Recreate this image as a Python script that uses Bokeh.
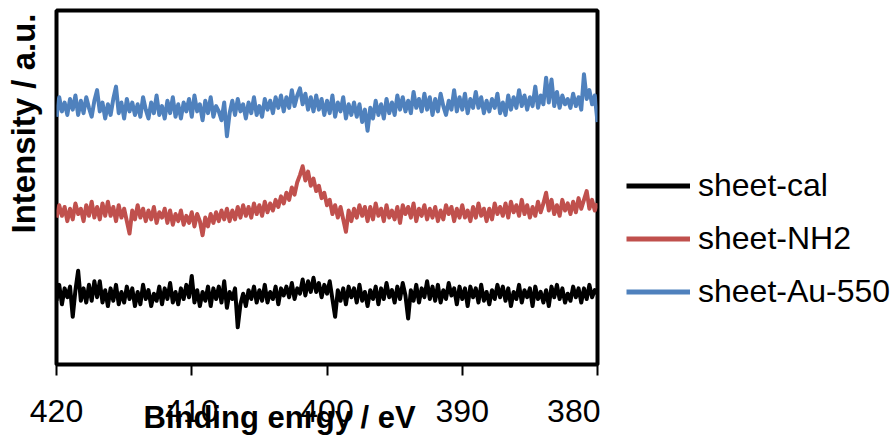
import numpy as np
from bokeh.plotting import figure
from bokeh.layouts import row
from bokeh.models import Range1d, FixedTicker, Legend, LegendItem, Title
from bokeh.embed import file_html
from bokeh.resources import INLINE

# Spectra sampled every 0.2 eV from 420 eV down to 380 eV (one row = 1 eV)
sheet_au_550 = [
    70.0, 75.5, 71.5, 74.0, 70.5,
    75.0, 72.0, 76.0, 70.5, 74.5,
    71.0, 75.5, 72.5, 70.0, 74.5,
    77.5, 71.5, 74.0, 69.5, 73.5,
    70.5, 75.0, 78.5, 71.0, 74.0,
    69.5, 75.0, 71.5, 74.0, 70.5,
    73.5, 70.0, 75.5, 72.0, 69.5,
    74.0, 71.0, 76.0, 70.5, 73.0,
    69.5, 74.5, 71.0, 75.5, 70.0,
    73.5, 69.5, 74.0, 71.5, 75.0,
    70.0, 76.0, 71.5, 73.5, 69.0,
    74.5, 71.0, 75.5, 70.0, 73.0,
    71.5, 69.0, 74.0, 64.5, 71.0,
    74.5, 70.5, 75.0, 71.5, 73.5,
    69.5, 74.0, 71.0, 75.5, 70.5,
    73.0, 70.0, 75.0, 72.0, 74.5,
    71.0, 75.5, 72.5, 76.0, 71.5,
    75.5, 72.5, 77.5, 73.0, 76.0,
    78.0, 73.5, 76.5, 72.0, 75.5,
    71.5, 76.0, 72.0, 75.0, 70.5,
    74.5, 71.0, 76.0, 70.0, 74.0,
    71.5, 75.5, 69.5, 73.5, 70.5,
    74.0, 70.0, 73.5, 68.5, 72.0,
    66.0, 72.5, 69.5, 74.5, 70.5,
    73.5, 69.5, 75.0, 71.0, 74.0,
    70.5, 76.0, 72.0, 75.5, 71.5,
    74.5, 71.0, 77.0, 72.5, 75.0,
    71.5, 76.5, 72.0, 75.5, 70.5,
    75.0, 71.5, 76.5, 73.0, 70.5,
    74.5, 72.0, 77.5, 71.5, 75.5,
    72.0, 76.5, 71.0, 75.0, 72.5,
    77.0, 72.5, 75.5, 71.0, 74.5,
    71.5, 75.0, 72.5, 76.5, 71.0,
    74.0, 70.5, 76.0, 72.0, 75.5,
    72.5, 77.5, 73.0, 76.0, 72.0,
    75.5, 73.0, 78.5, 72.5, 76.0,
    73.5, 81.0, 74.0, 80.5, 73.0,
    77.0, 72.5, 76.0, 73.5, 75.0,
    72.5, 76.5, 73.0, 75.5, 72.0,
    82.0, 75.0, 77.5, 73.5, 76.0,
    68.5,
]

sheet_nh2 = [
    41.5, 45.0, 42.0, 44.5, 40.5,
    44.0, 41.0, 45.5, 42.5, 44.0,
    40.5, 45.0, 42.0, 46.0, 41.5,
    44.5, 41.0, 45.5, 42.0, 46.0,
    42.0, 44.5, 40.5, 45.0, 41.5,
    44.0, 40.5, 37.0, 43.5, 41.0,
    45.0, 41.5, 44.0, 40.5, 43.5,
    41.0, 44.5, 40.0, 43.0, 41.5,
    44.0, 40.0, 43.5, 39.5, 42.5,
    40.5, 43.5, 39.5, 42.0, 40.0,
    43.0, 39.0, 42.5, 40.5, 36.5,
    41.5, 39.0, 42.5, 40.0, 43.0,
    40.5, 43.5, 41.0, 44.0, 40.5,
    43.5, 41.0, 44.5, 41.5, 45.0,
    42.0, 44.5, 41.5, 45.5, 42.5,
    45.0, 42.0, 46.0, 43.0, 45.5,
    43.5, 46.5, 44.5, 47.5, 45.5,
    48.5, 46.5, 50.0, 48.0, 51.5,
    53.5, 56.0, 52.0, 54.5, 50.5,
    52.5, 49.0, 50.5, 47.0, 48.5,
    45.0, 46.5, 42.5, 45.0, 41.5,
    44.5, 41.0, 37.5, 43.5, 40.5,
    44.0, 41.5, 45.0, 42.0, 44.5,
    40.5, 44.5, 41.0, 45.5, 42.0,
    44.0, 40.5, 45.0, 41.5, 43.5,
    41.0, 44.5, 40.0, 45.0, 42.5,
    44.5, 41.5, 45.5, 40.5, 44.0,
    42.0, 45.0, 41.0, 44.0, 41.5,
    44.5, 40.5, 43.5, 41.0, 45.0,
    42.5, 44.5, 40.5, 44.0, 41.5,
    45.0, 41.5, 43.5, 40.5, 44.5,
    41.5, 45.5, 42.0, 44.0, 40.5,
    44.0, 41.0, 45.5, 42.5, 44.5,
    42.0, 45.5, 41.5, 46.0, 43.0,
    45.0, 42.0, 46.5, 42.5, 45.0,
    41.5, 44.5, 42.0, 46.0, 43.0,
    45.5, 48.5, 43.5, 46.5, 42.5,
    45.0, 42.0, 46.5, 43.5, 45.5,
    42.5, 46.0, 43.0, 47.0, 44.0,
    46.5, 49.0, 44.0, 46.5, 43.5,
    45.5,
]

sheet_cal = [
    18.0, 22.5, 17.0, 21.5, 19.0,
    22.0, 13.5, 21.0, 26.5, 18.0,
    21.5, 17.5, 22.5, 18.0, 23.5,
    19.0, 23.5, 17.5, 21.0, 16.5,
    21.5, 18.0, 22.5, 17.0, 20.5,
    17.5, 22.0, 18.5, 21.5, 16.5,
    20.5, 17.0, 22.5, 18.5, 21.0,
    16.5, 20.0, 18.0, 22.0, 17.0,
    21.5, 18.5, 23.0, 17.5, 20.5,
    17.0, 21.5, 18.5, 22.5, 19.0,
    25.0, 17.5, 21.0, 16.5, 20.5,
    18.0, 22.0, 16.5, 21.5, 18.5,
    22.0, 17.5, 23.5, 16.0, 20.5,
    18.5, 21.5, 10.5, 17.0, 20.0,
    16.5, 21.0, 18.5, 22.0, 17.5,
    21.0, 18.0, 22.5, 17.5, 20.5,
    18.5, 22.0, 17.0, 21.5, 19.5,
    22.0, 19.0, 23.0, 18.5, 21.5,
    20.0, 24.0, 19.5, 23.5, 20.5,
    24.5, 20.5, 23.0, 19.0, 22.5,
    20.0, 23.5, 18.5, 13.5, 21.0,
    18.0, 21.5, 17.0, 22.0, 19.0,
    21.5, 17.5, 22.5, 18.0, 20.5,
    16.5, 21.0, 18.5, 22.0, 17.0,
    21.5, 18.5, 23.0, 19.0, 21.0,
    17.5, 22.0, 18.5, 23.0, 19.5,
    13.0, 21.0, 18.0, 22.5, 17.5,
    21.5, 19.0, 23.5, 18.5, 22.0,
    18.0, 22.5, 17.5, 21.0, 18.5,
    23.0, 19.5, 21.5, 17.0, 22.0,
    18.5, 21.5, 16.5, 22.0, 19.0,
    21.5, 17.5, 22.5, 18.0, 20.5,
    17.0, 21.0, 18.5, 22.5, 19.0,
    22.0, 18.0, 21.5, 16.5, 20.5,
    18.5, 22.5, 17.5, 21.0, 19.0,
    21.5, 16.5, 22.0, 18.5, 20.5,
    17.5, 21.0, 16.5, 22.0, 19.0,
    22.5, 18.5, 21.5, 17.5, 20.0,
    18.0, 22.0, 19.0, 21.5, 17.5,
    21.5, 18.5, 22.5, 19.0, 21.0,
    20.0,
]

series_names = ["sheet-cal", "sheet-NH2", "sheet-Au-550"]
series_colors = ["#000000", "#C0504D", "#4F81BD"]
series_values = [sheet_cal, sheet_nh2, sheet_au_550]
x_ticks = [420, 410, 400, 390, 380]
e_start, e_end = 420, 380

FONT = "Liberation Sans"

# ---- main chart ----
p = figure(width=600, height=441, output_backend="svg", toolbar_location=None,
           x_range=Range1d(e_start, e_end), y_range=Range1d(0, 100),
           min_border_left=56, min_border_right=3, min_border_top=10,
           min_border_bottom=77)
p.grid.visible = False
p.yaxis.visible = False
p.outline_line_color = "black"
p.outline_line_width = 4
p.background_fill_color = "white"
p.border_fill_color = "white"

ax = p.xaxis[0]
ax.ticker = FixedTicker(ticks=x_ticks)
ax.axis_line_color = None
ax.major_tick_in = 0
ax.major_tick_out = 11
ax.major_tick_line_width = 2
ax.minor_tick_line_color = None
ax.major_label_standoff = 24
ax.major_label_text_font = FONT
ax.major_label_text_font_size = "32px"
ax.major_label_text_color = "black"

for vals, color in zip(series_values, series_colors):
    energy = np.linspace(e_start, e_end, len(vals))
    p.line(energy, vals, line_color=color, line_width=4, line_join="round")

xt = Title(text="Binding enrgy / eV", align="left", offset=87, vertical_align="top",
           text_font=FONT, text_font_size="31px", text_font_style="bold",
           text_color="black")
xt.standoff = -50
p.add_layout(xt, "below")

# small empty gap between the frame and the y title
gap = Title(text=" ", text_font_size="1px", standoff=11)
p.add_layout(gap, "left")
yt = Title(text="Intensity / a.u.", align="right", offset=3, vertical_align="middle",
           standoff=0, text_font=FONT, text_font_size="33px", text_font_style="bold",
           text_color="black")
p.add_layout(yt, "left")

# ---- legend panel ----
p2 = figure(width=295, height=441, output_backend="svg", toolbar_location=None,
            x_range=Range1d(0, 1), y_range=Range1d(0, 1), min_border=0,
            x_axis_location=None, y_axis_location=None)
p2.grid.visible = False
p2.outline_line_color = None
p2.background_fill_color = "white"
p2.border_fill_color = "white"

legend_renderers = []
for vals, color in zip(series_values, series_colors):
    energy = np.linspace(e_start, e_end, len(vals))
    legend_renderers.append(p2.line(energy, vals, line_color=color, line_width=5))

legend = Legend(items=[LegendItem(label=n, renderers=[r])
                       for n, r in zip(series_names, legend_renderers)],
                location=(26, 54), orientation="vertical",
                glyph_width=64, glyph_height=35, label_height=35, spacing=16,
                label_standoff=8, padding=0, margin=0,
                border_line_color=None, background_fill_alpha=0,
                label_text_font=FONT, label_text_font_size="32px",
                label_text_color="black")
p2.add_layout(legend)

layout = row(p, p2, spacing=0)
open("out.html", "w").write(file_html(layout, INLINE))
